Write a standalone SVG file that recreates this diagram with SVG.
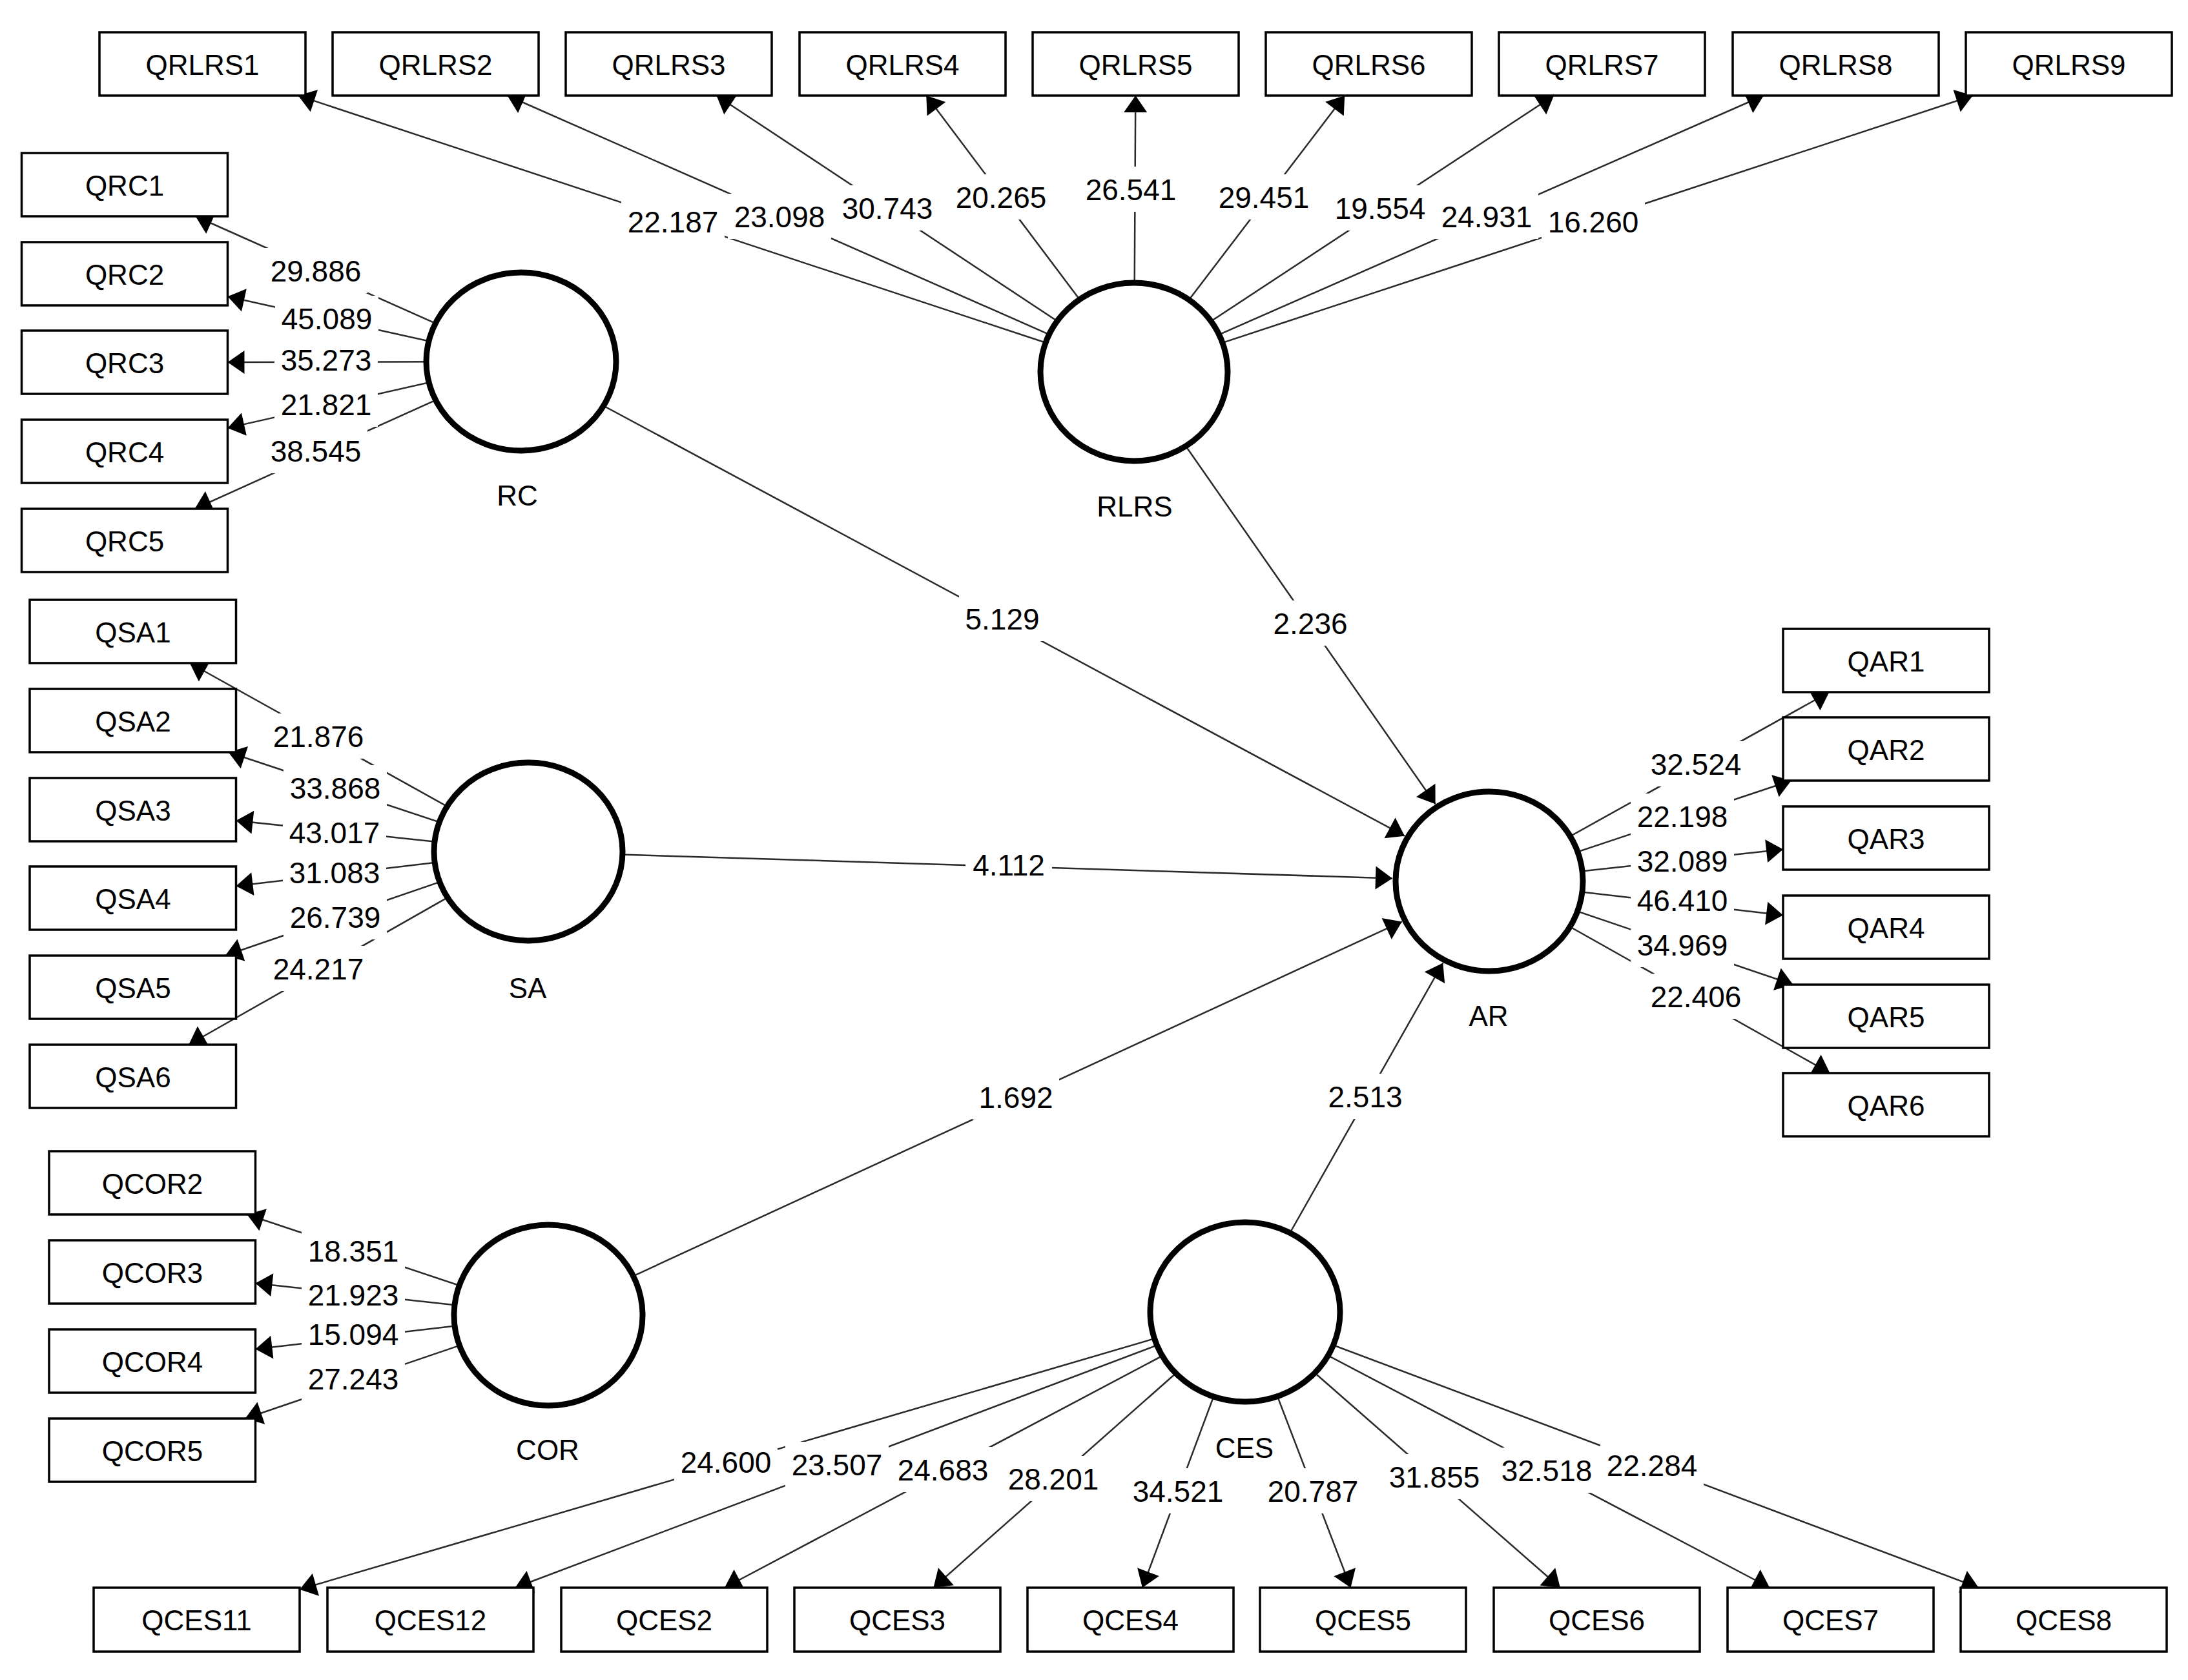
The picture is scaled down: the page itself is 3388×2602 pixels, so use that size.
<svg xmlns="http://www.w3.org/2000/svg" width="3388" height="2602" viewBox="0 0 3388 2602">
<style>
.box{fill:#fff;stroke:#000;stroke-width:3.5}
.lv{fill:#fff;stroke:#000;stroke-width:9}
.ln{stroke:#2a2a2a;stroke-width:2.5;fill:none;marker-end:url(#ah)}
.lb{fill:#fff}
.t{font-family:"Liberation Sans",Arial,sans-serif;font-size:44px;text-anchor:middle;fill:#000}
.n{font-family:"Liberation Sans",Arial,sans-serif;font-size:46px;text-anchor:middle;fill:#000}
</style>
<defs>
<marker id="ah" markerUnits="userSpaceOnUse" markerWidth="30" markerHeight="40" viewBox="-28 -20 30 40" refX="0" refY="0" orient="auto">
<path d="M0,0 L-26,-18 L-26,18 Z" fill="#000"/>
</marker>
</defs>
<rect width="3388" height="2602" fill="#fff"/>
<g id="connectors">
<!-- RLRS loadings -->
<line class="ln" x1="1756" y1="576" x2="461.7" y2="148"/>
<line class="ln" x1="1756" y1="576" x2="785.6" y2="148"/>
<line class="ln" x1="1756" y1="576" x2="1109.5" y2="148"/>
<line class="ln" x1="1756" y1="576" x2="1434.3" y2="148"/>
<line class="ln" x1="1756" y1="576" x2="1758.3" y2="148"/>
<line class="ln" x1="1756" y1="576" x2="2082.2" y2="148"/>
<line class="ln" x1="1756" y1="576" x2="2406.1" y2="148"/>
<line class="ln" x1="1756" y1="576" x2="2730.9" y2="148"/>
<line class="ln" x1="1756" y1="576" x2="3054.8" y2="148"/>
<!-- RC loadings -->
<line class="ln" x1="807" y1="560" x2="302.8" y2="335"/>
<line class="ln" x1="807" y1="560" x2="352.5" y2="459.3"/>
<line class="ln" x1="807" y1="560" x2="352.5" y2="561"/>
<line class="ln" x1="807" y1="560" x2="352.5" y2="662.9"/>
<line class="ln" x1="807" y1="560" x2="301.6" y2="788"/>
<!-- SA loadings -->
<line class="ln" x1="818" y1="1319" x2="293.9" y2="1027"/>
<line class="ln" x1="818" y1="1319" x2="353.7" y2="1165"/>
<line class="ln" x1="818" y1="1319" x2="365.5" y2="1270.9"/>
<line class="ln" x1="818" y1="1319" x2="365.5" y2="1372.2"/>
<line class="ln" x1="818" y1="1319" x2="348.8" y2="1480"/>
<line class="ln" x1="818" y1="1319" x2="292.2" y2="1618"/>
<!-- COR loadings -->
<line class="ln" x1="849" y1="2037" x2="382.5" y2="1881"/>
<line class="ln" x1="849" y1="2037" x2="395.5" y2="1987.4"/>
<line class="ln" x1="849" y1="2037" x2="395.5" y2="2089.5"/>
<line class="ln" x1="849" y1="2037" x2="379.7" y2="2197"/>
<!-- AR loadings -->
<line class="ln" x1="2306" y1="1365" x2="2832.4" y2="1072"/>
<line class="ln" x1="2306" y1="1365" x2="2773.6" y2="1209"/>
<line class="ln" x1="2306" y1="1365" x2="2761" y2="1315.4"/>
<line class="ln" x1="2306" y1="1365" x2="2761" y2="1417.6"/>
<line class="ln" x1="2306" y1="1365" x2="2776.5" y2="1525"/>
<line class="ln" x1="2306" y1="1365" x2="2833.5" y2="1662"/>
<!-- CES loadings -->
<line class="ln" x1="1928" y1="2032" x2="464" y2="2461.7"/>
<line class="ln" x1="1928" y1="2032" x2="797.6" y2="2459"/>
<line class="ln" x1="1928" y1="2032" x2="1122" y2="2459"/>
<line class="ln" x1="1928" y1="2032" x2="1445.4" y2="2459"/>
<line class="ln" x1="1928" y1="2032" x2="1768.9" y2="2459"/>
<line class="ln" x1="1928" y1="2032" x2="2091.5" y2="2459"/>
<line class="ln" x1="1928" y1="2032" x2="2415.9" y2="2459"/>
<line class="ln" x1="1928" y1="2032" x2="2740.3" y2="2459"/>
<line class="ln" x1="1928" y1="2032" x2="3063.8" y2="2459"/>
<!-- structural paths -->
<line class="ln" x1="807" y1="560" x2="2175" y2="1294.7"/>
<line class="ln" x1="1756" y1="576" x2="2222.6" y2="1245.3"/>
<line class="ln" x1="818" y1="1319" x2="2156" y2="1360.4"/>
<line class="ln" x1="849" y1="2037" x2="2170.8" y2="1427.4"/>
<line class="ln" x1="1928" y1="2032" x2="2234.3" y2="1491.5"/>
<!-- label backgrounds -->
<g class="lb">
<rect x="962" y="308" width="160" height="70"/>
<rect x="1127" y="300" width="160" height="70"/>
<rect x="1294" y="287" width="160" height="70"/>
<rect x="1470" y="270" width="160" height="70"/>
<rect x="1671" y="258" width="160" height="70"/>
<rect x="1877" y="270" width="160" height="70"/>
<rect x="2057" y="287" width="160" height="70"/>
<rect x="2222" y="300" width="160" height="70"/>
<rect x="2387" y="308" width="160" height="70"/>
<rect x="409" y="384" width="160" height="70"/>
<rect x="426" y="458" width="160" height="70"/>
<rect x="425" y="522" width="160" height="70"/>
<rect x="425" y="591" width="160" height="70"/>
<rect x="409" y="663" width="160" height="70"/>
<rect x="413" y="1105" width="160" height="70"/>
<rect x="439" y="1185" width="160" height="70"/>
<rect x="438" y="1254" width="160" height="70"/>
<rect x="438" y="1316" width="160" height="70"/>
<rect x="439" y="1385" width="160" height="70"/>
<rect x="413" y="1465" width="160" height="70"/>
<rect x="467" y="1902" width="160" height="70"/>
<rect x="467" y="1970" width="160" height="70"/>
<rect x="467" y="2031" width="160" height="70"/>
<rect x="467" y="2100" width="160" height="70"/>
<rect x="2546" y="1148" width="160" height="70"/>
<rect x="2525" y="1229" width="160" height="70"/>
<rect x="2525" y="1298" width="160" height="70"/>
<rect x="2525" y="1359" width="160" height="70"/>
<rect x="2525" y="1428" width="160" height="70"/>
<rect x="2546" y="1508" width="160" height="70"/>
<rect x="1044" y="2229" width="160" height="70"/>
<rect x="1216" y="2233" width="160" height="70"/>
<rect x="1380" y="2241" width="160" height="70"/>
<rect x="1551" y="2255" width="160" height="70"/>
<rect x="1744" y="2274" width="160" height="70"/>
<rect x="1953" y="2274" width="160" height="70"/>
<rect x="2141" y="2252" width="160" height="70"/>
<rect x="2315" y="2242" width="160" height="70"/>
<rect x="2478" y="2234" width="160" height="70"/>
<rect x="1485" y="923" width="134" height="70"/>
<rect x="1495" y="1304" width="134" height="70"/>
<rect x="1506" y="1664" width="134" height="70"/>
<rect x="1962" y="930" width="134" height="70"/>
<rect x="2047" y="1663" width="134" height="70"/>
</g>
<g class="n">
<text x="1042" y="360">22.187</text>
<text x="1207" y="352">23.098</text>
<text x="1374" y="339">30.743</text>
<text x="1550" y="322">20.265</text>
<text x="1751" y="310">26.541</text>
<text x="1957" y="322">29.451</text>
<text x="2137" y="339">19.554</text>
<text x="2302" y="352">24.931</text>
<text x="2467" y="360">16.260</text>
<text x="489" y="436">29.886</text>
<text x="506" y="510">45.089</text>
<text x="505" y="574">35.273</text>
<text x="505" y="643">21.821</text>
<text x="489" y="715">38.545</text>
<text x="493" y="1157">21.876</text>
<text x="519" y="1237">33.868</text>
<text x="518" y="1306">43.017</text>
<text x="518" y="1368">31.083</text>
<text x="519" y="1437">26.739</text>
<text x="493" y="1517">24.217</text>
<text x="547" y="1954">18.351</text>
<text x="547" y="2022">21.923</text>
<text x="547" y="2083">15.094</text>
<text x="547" y="2152">27.243</text>
<text x="2626" y="1200">32.524</text>
<text x="2605" y="1281">22.198</text>
<text x="2605" y="1350">32.089</text>
<text x="2605" y="1411">46.410</text>
<text x="2605" y="1480">34.969</text>
<text x="2626" y="1560">22.406</text>
<text x="1124" y="2281">24.600</text>
<text x="1296" y="2285">23.507</text>
<text x="1460" y="2293">24.683</text>
<text x="1631" y="2307">28.201</text>
<text x="1824" y="2326">34.521</text>
<text x="2033" y="2326">20.787</text>
<text x="2221" y="2304">31.855</text>
<text x="2395" y="2294">32.518</text>
<text x="2558" y="2286">22.284</text>
<text x="1552" y="975">5.129</text>
<text x="1562" y="1356">4.112</text>
<text x="1573" y="1716">1.692</text>
<text x="2029" y="982">2.236</text>
<text x="2114" y="1715">2.513</text>
</g>
</g>
<!-- latent variables -->
<g id="RC"><ellipse class="lv" cx="807" cy="560" rx="147" ry="138"/><text class="t" x="801" y="783">RC</text></g>
<g id="RLRS"><ellipse class="lv" cx="1756" cy="576" rx="145" ry="138"/><text class="t" x="1757" y="800">RLRS</text></g>
<g id="SA"><ellipse class="lv" cx="818" cy="1319" rx="146" ry="138"/><text class="t" x="817" y="1546">SA</text></g>
<g id="AR"><ellipse class="lv" cx="2306" cy="1365" rx="145" ry="139"/><text class="t" x="2305" y="1589">AR</text></g>
<g id="COR"><ellipse class="lv" cx="849" cy="2037" rx="146" ry="140"/><text class="t" x="848" y="2261">COR</text></g>
<g id="CES"><ellipse class="lv" cx="1928" cy="2032" rx="147" ry="139"/><text class="t" x="1927" y="2258">CES</text></g>
<!-- indicators: RLRS -->
<g id="QRLRS1"><rect class="box" x="154" y="50" width="319" height="98"/><text class="t" x="313.5" y="116">QRLRS1</text></g>
<g id="QRLRS2"><rect class="box" x="515" y="50" width="319" height="98"/><text class="t" x="674.5" y="116">QRLRS2</text></g>
<g id="QRLRS3"><rect class="box" x="876" y="50" width="319" height="98"/><text class="t" x="1035.5" y="116">QRLRS3</text></g>
<g id="QRLRS4"><rect class="box" x="1238" y="50" width="319" height="98"/><text class="t" x="1397.5" y="116">QRLRS4</text></g>
<g id="QRLRS5"><rect class="box" x="1599" y="50" width="319" height="98"/><text class="t" x="1758.5" y="116">QRLRS5</text></g>
<g id="QRLRS6"><rect class="box" x="1960" y="50" width="319" height="98"/><text class="t" x="2119.5" y="116">QRLRS6</text></g>
<g id="QRLRS7"><rect class="box" x="2321" y="50" width="319" height="98"/><text class="t" x="2480.5" y="116">QRLRS7</text></g>
<g id="QRLRS8"><rect class="box" x="2683" y="50" width="319" height="98"/><text class="t" x="2842.5" y="116">QRLRS8</text></g>
<g id="QRLRS9"><rect class="box" x="3044" y="50" width="319" height="98"/><text class="t" x="3203.5" y="116">QRLRS9</text></g>
<!-- RC -->
<g id="QRC1"><rect class="box" x="33.5" y="237" width="319" height="98"/><text class="t" x="193" y="303">QRC1</text></g>
<g id="QRC2"><rect class="box" x="33.5" y="375" width="319" height="98"/><text class="t" x="193" y="441">QRC2</text></g>
<g id="QRC3"><rect class="box" x="33.5" y="512" width="319" height="98"/><text class="t" x="193" y="578">QRC3</text></g>
<g id="QRC4"><rect class="box" x="33.5" y="650" width="319" height="98"/><text class="t" x="193" y="716">QRC4</text></g>
<g id="QRC5"><rect class="box" x="33.5" y="788" width="319" height="98"/><text class="t" x="193" y="854">QRC5</text></g>
<!-- SA -->
<g id="QSA1"><rect class="box" x="46" y="929" width="319.5" height="98"/><text class="t" x="206" y="995">QSA1</text></g>
<g id="QSA2"><rect class="box" x="46" y="1067" width="319.5" height="98"/><text class="t" x="206" y="1133">QSA2</text></g>
<g id="QSA3"><rect class="box" x="46" y="1205" width="319.5" height="98"/><text class="t" x="206" y="1271">QSA3</text></g>
<g id="QSA4"><rect class="box" x="46" y="1342" width="319.5" height="98"/><text class="t" x="206" y="1408">QSA4</text></g>
<g id="QSA5"><rect class="box" x="46" y="1480" width="319.5" height="98"/><text class="t" x="206" y="1546">QSA5</text></g>
<g id="QSA6"><rect class="box" x="46" y="1618" width="319.5" height="98"/><text class="t" x="206" y="1684">QSA6</text></g>
<!-- COR -->
<g id="QCOR2"><rect class="box" x="76" y="1783" width="319.5" height="98"/><text class="t" x="236" y="1849">QCOR2</text></g>
<g id="QCOR3"><rect class="box" x="76" y="1921" width="319.5" height="98"/><text class="t" x="236" y="1987">QCOR3</text></g>
<g id="QCOR4"><rect class="box" x="76" y="2059" width="319.5" height="98"/><text class="t" x="236" y="2125">QCOR4</text></g>
<g id="QCOR5"><rect class="box" x="76" y="2197" width="319.5" height="98"/><text class="t" x="236" y="2263">QCOR5</text></g>
<!-- AR -->
<g id="QAR1"><rect class="box" x="2761" y="974" width="319" height="98"/><text class="t" x="2920.5" y="1040">QAR1</text></g>
<g id="QAR2"><rect class="box" x="2761" y="1111" width="319" height="98"/><text class="t" x="2920.5" y="1177">QAR2</text></g>
<g id="QAR3"><rect class="box" x="2761" y="1249" width="319" height="98"/><text class="t" x="2920.5" y="1315">QAR3</text></g>
<g id="QAR4"><rect class="box" x="2761" y="1387" width="319" height="98"/><text class="t" x="2920.5" y="1453">QAR4</text></g>
<g id="QAR5"><rect class="box" x="2761" y="1525" width="319" height="98"/><text class="t" x="2920.5" y="1591">QAR5</text></g>
<g id="QAR6"><rect class="box" x="2761" y="1662" width="319" height="98"/><text class="t" x="2920.5" y="1728">QAR6</text></g>
<!-- CES -->
<g id="QCES11"><rect class="box" x="145" y="2459" width="319" height="99"/><text class="t" x="304.5" y="2525">QCES11</text></g>
<g id="QCES12"><rect class="box" x="507" y="2459" width="319" height="99"/><text class="t" x="666.5" y="2525">QCES12</text></g>
<g id="QCES2"><rect class="box" x="869" y="2459" width="319" height="99"/><text class="t" x="1028.5" y="2525">QCES2</text></g>
<g id="QCES3"><rect class="box" x="1230" y="2459" width="319" height="99"/><text class="t" x="1389.5" y="2525">QCES3</text></g>
<g id="QCES4"><rect class="box" x="1591" y="2459" width="319" height="99"/><text class="t" x="1750.5" y="2525">QCES4</text></g>
<g id="QCES5"><rect class="box" x="1951" y="2459" width="319" height="99"/><text class="t" x="2110.5" y="2525">QCES5</text></g>
<g id="QCES6"><rect class="box" x="2313" y="2459" width="319" height="99"/><text class="t" x="2472.5" y="2525">QCES6</text></g>
<g id="QCES7"><rect class="box" x="2675" y="2459" width="319" height="99"/><text class="t" x="2834.5" y="2525">QCES7</text></g>
<g id="QCES8"><rect class="box" x="3036" y="2459" width="319" height="99"/><text class="t" x="3195.5" y="2525">QCES8</text></g>
</svg>
